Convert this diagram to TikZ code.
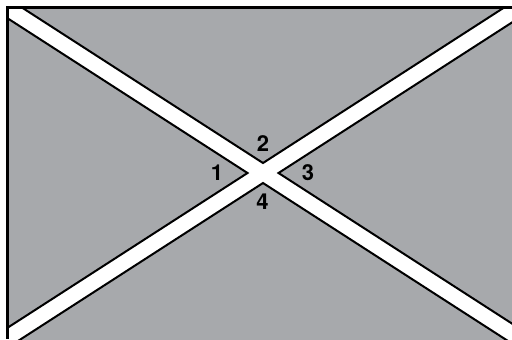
\documentclass[tikz,border=0pt]{standalone}
\usepackage{fontspec}
\setmainfont{TeX Gyre Heros}
\definecolor{roadgray}{RGB}{167,169,172}
\begin{document}
\begin{tikzpicture}[x=0.5pt,y=-0.5pt]
\tikzstyle{every node}+=[inner sep=0pt]
\tikzstyle{corner}=[fill=roadgray, draw=black, line width=1pt, line join=miter]
\tikzstyle{num}=[font=\fontsize{11}{13}\selectfont\bfseries]
\useasboundingbox (0,0) rectangle (512,339);
% notches of the crossing
\coordinate (top) at (263,163);
\coordinate (bot) at (263,183);
\coordinate (lft) at (247.5,173);
\coordinate (rgt) at (278.5,173);
\begin{scope}
\clip (7.5,7.5) rectangle (520,345);
\fill [white] (7.5,7.5) rectangle (520,345);
\draw [corner] (top) -- (-20,-19.5) -- (546,-19.5) -- cycle;
\draw [corner] (lft) -- (-20,0.5) -- (-20,345.5) -- cycle;
\draw [corner] (rgt) -- (546,0.5) -- (546,345.5) -- cycle;
\draw [corner] (bot) -- (553,370) -- (-27,370) -- cycle;
\end{scope}
\draw [black, line width=1.5pt] (512,7.5) -- (7.5,7.5) -- (7.5,339);
\node (n1) at (217,172.5) [num] {1};
\node (n2) at (263,144) [num] {2};
\node (n3) at (308,173) [num] {3};
\node (n4) at (262.5,202) [num] {4};
\end{tikzpicture}
\end{document}
